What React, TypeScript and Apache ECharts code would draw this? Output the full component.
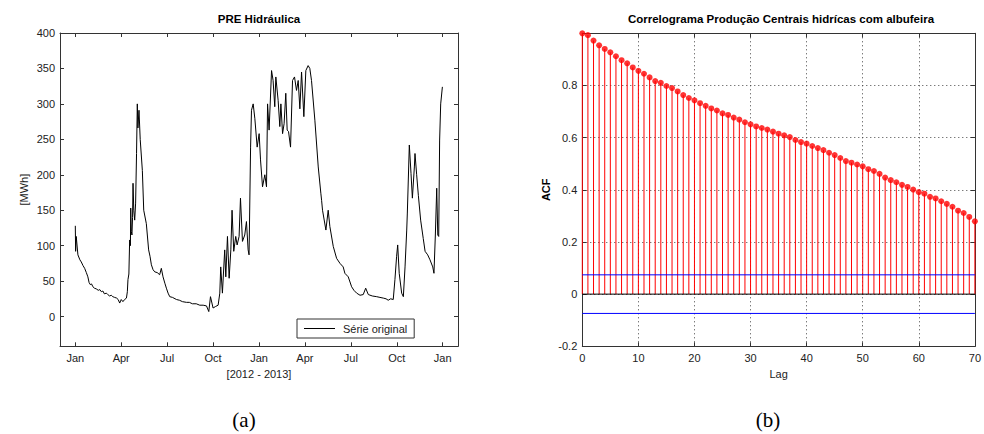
import React, { useEffect, useRef } from "react";
import * as echarts from "echarts";

// ---------- Left chart: PRE Hidráulica (daily production, 2012-2013) ----------
// x = position in months from 1 Jan 2012 (0 = Jan 2012, 12 = Jan 2013, 24 = Jan 2014)
const quarterTicks = [0, 3, 6, 9, 12, 15, 18, 21, 24];
const quarterLabels = ["Jan", "Apr", "Jul", "Oct", "Jan", "Apr", "Jul", "Oct", "Jan"];
const mwhTicks = [0, 50, 100, 150, 200, 250, 300, 350, 400];

const monthPos = [
  0.0, 0.02, 0.06, 0.17, 0.3, 0.39, 0.5, 0.61, 0.72, 0.82, 0.9, 0.98, 1.06, 1.15, 1.25, 1.37, 1.5, 1.6, 1.7, 1.8,
  1.9, 2.03, 2.12, 2.24, 2.35, 2.45, 2.57, 2.7, 2.8, 2.9, 3.0, 3.11, 3.22, 3.34, 3.4, 3.44, 3.5, 3.55, 3.6, 3.62,
  3.66, 3.7, 3.74, 3.77, 3.82, 3.88, 3.94, 4.0, 4.05, 4.09, 4.16, 4.24, 4.38, 4.47, 4.64, 4.79, 4.88, 4.97, 5.08, 5.19,
  5.35, 5.51, 5.62, 5.73, 5.85, 5.95, 6.06, 6.17, 6.35, 6.61, 6.8, 7.0, 7.26, 7.45, 7.65, 7.9, 8.13, 8.35, 8.57, 8.72,
  8.83, 9.0, 9.15, 9.33, 9.44, 9.5, 9.61, 9.76, 9.83, 9.94, 10.05, 10.16, 10.24, 10.35, 10.48, 10.57, 10.7, 10.79, 10.92, 11.07,
  11.18, 11.29, 11.35, 11.45, 11.51, 11.62, 11.73, 11.88, 12.01, 12.1, 12.23, 12.38, 12.49, 12.56, 12.66, 12.82, 12.92, 13.03, 13.1, 13.25,
  13.36, 13.43, 13.54, 13.64, 13.75, 13.84, 13.93, 14.06, 14.19, 14.32, 14.45, 14.56, 14.67, 14.78, 14.93, 15.06, 15.21, 15.32, 15.43, 15.65,
  15.87, 16.04, 16.09, 16.15, 16.37, 16.52, 16.63, 16.85, 17.07, 17.29, 17.5, 17.61, 17.83, 18.05, 18.2, 18.38, 18.6, 18.81, 18.97, 19.14,
  19.4, 19.69, 19.9, 20.12, 20.3, 20.44, 20.6, 20.77, 20.88, 20.99, 21.06, 21.16, 21.32, 21.43, 21.54, 21.65, 21.69, 21.82, 21.93, 22.02,
  22.15, 22.19, 22.3, 22.41, 22.56, 22.73, 22.85, 23.02, 23.17, 23.35, 23.43, 23.52, 23.61, 23.68, 23.74, 23.8, 23.87, 23.98,
];
const prodMWh = [
  128, 92, 113, 87, 80, 77, 72, 68, 62, 56, 48, 45, 46, 42, 40, 39, 37, 38, 35, 36,
  32, 33, 31, 29, 30, 28, 27, 26, 24, 19, 24, 21, 24, 26, 35, 52, 60, 108, 100, 153,
  120, 115, 140, 188, 150, 136, 160, 230, 300, 266, 291, 250, 206, 150, 131, 94, 85, 73, 66, 63,
  62, 59, 68, 56, 47, 40, 33, 28, 27, 24, 23, 21, 20, 20, 18, 18, 16, 16, 15, 7,
  28, 12, 14, 16, 33, 70, 33, 94, 56, 113, 54, 94, 150, 92, 113, 101, 113, 167, 106, 115,
  134, 94, 87, 239, 291, 300, 279, 239, 258, 221, 183, 200, 183, 300, 263, 347, 333, 296, 338, 305,
  268, 300, 258, 272, 315, 263, 261, 239, 333, 338, 319, 333, 293, 345, 282, 347, 354, 350, 333, 277,
  211, 174, 164, 150, 122, 150, 127, 99, 82, 75, 70, 61, 56, 42, 37, 33, 30, 31, 40, 31,
  29, 28, 27, 26, 25, 23, 25, 24, 52, 85, 101, 61, 33, 28, 70, 122, 146, 242, 202, 167,
  211, 230, 200, 171, 136, 110, 92, 87, 80, 70, 61, 115, 181, 115, 113, 249, 300, 324,
];

// ---------- Right chart: correlogram ----------
const lags = [
  0, 1, 2, 3, 4, 5, 6, 7, 8, 9, 10, 11, 12, 13, 14, 15, 16, 17, 18, 19, 20, 21, 22, 23, 24, 25, 26, 27, 28, 29, 30, 31, 32, 33, 34, 35,
  36, 37, 38, 39, 40, 41, 42, 43, 44, 45, 46, 47, 48, 49, 50, 51, 52, 53, 54, 55, 56, 57, 58, 59, 60, 61, 62, 63, 64, 65, 66, 67, 68, 69, 70,
];
const acf = [
  1.0, 0.993, 0.972, 0.954, 0.94, 0.927, 0.912, 0.897, 0.885, 0.869, 0.856, 0.845, 0.831, 0.817, 0.81, 0.798, 0.79, 0.777, 0.763, 0.752,
  0.743, 0.732, 0.722, 0.712, 0.704, 0.693, 0.687, 0.677, 0.669, 0.659, 0.651, 0.643, 0.637, 0.631, 0.623, 0.615, 0.609, 0.602, 0.591, 0.583,
  0.577, 0.568, 0.56, 0.552, 0.542, 0.533, 0.522, 0.51, 0.504, 0.497, 0.49, 0.479, 0.472, 0.461, 0.447, 0.437, 0.429, 0.419, 0.411, 0.401,
  0.391, 0.385, 0.373, 0.367, 0.356, 0.346, 0.335, 0.32, 0.311, 0.296, 0.279,
];
const confBound = 0.074;

const FONT = "'Liberation Sans', Arial, Helvetica, sans-serif";
const AXIS_COLOR = "#333333";
const LABEL_COLOR = "#222222";

export default function App() {
  const ref = useRef<HTMLDivElement>(null);

  useEffect(() => {
    document.body.style.margin = "0";
    if (!ref.current) return;
    const chart = echarts.init(ref.current, null, { renderer: "svg" });

    const axisLine = { show: true, onZero: false, lineStyle: { color: AXIS_COLOR, width: 1 } };
    const labelStyle = { color: LABEL_COLOR, fontFamily: FONT, fontSize: 11 };
    const dotted = { show: true, lineStyle: { color: "#444", type: [1, 3], width: 1 } };

    const option: any = {
      animation: false,
      backgroundColor: "#ffffff",
      textStyle: { fontFamily: FONT },
      title: [
        {
          text: "PRE Hidráulica",
          left: 259,
          top: 13,
          textAlign: "center",
          padding: 0,
          textStyle: { fontFamily: FONT, fontSize: 11.5, fontWeight: "bold", color: "#000" },
        },
        {
          text: "Correlograma Produção Centrais hidrícas com albufeira",
          left: 781,
          top: 13,
          textAlign: "center",
          padding: 0,
          textStyle: { fontFamily: FONT, fontSize: 11.5, fontWeight: "bold", color: "#000" },
        },
      ],
      legend: {
        data: ["Série original"],
        left: 297,
        top: 319,
        orient: "horizontal",
        backgroundColor: "#ffffff",
        borderColor: AXIS_COLOR,
        borderWidth: 1,
        borderRadius: 0,
        padding: [4, 7, 4, 7],
        icon: "rect",
        itemWidth: 31,
        itemHeight: 1,
        itemStyle: { color: "#000" },
        textStyle: { fontFamily: FONT, fontSize: 11, color: LABEL_COLOR, padding: [0, 0, 0, 3] },
      },
      grid: [
        { left: 60, top: 33, width: 398, height: 313.3, containLabel: false },
        { left: 582.3, top: 33.3, width: 397, height: 313, containLabel: false },
      ],
      xAxis: [
        {
          type: "value",
          gridIndex: 0,
          min: -1,
          max: 25,
          position: "bottom",
          name: "[2012 - 2013]",
          nameLocation: "middle",
          nameGap: 20,
          nameTextStyle: { fontFamily: FONT, fontSize: 11, color: LABEL_COLOR },
          axisLine,
          axisTick: { show: true, inside: true, length: 4, customValues: quarterTicks, lineStyle: { color: AXIS_COLOR } },
          axisLabel: {
            ...labelStyle,
            margin: 6,
            customValues: quarterTicks,
            formatter: (v: number) => {
              const i = quarterTicks.indexOf(Math.round(v));
              return i >= 0 ? quarterLabels[i] : "";
            },
          },
          splitLine: { show: false },
        },
        {
          type: "value",
          gridIndex: 0,
          min: -1,
          max: 25,
          position: "top",
          axisLine,
          axisTick: { show: true, inside: true, length: 4, customValues: quarterTicks, lineStyle: { color: AXIS_COLOR } },
          axisLabel: { show: false },
          splitLine: { show: false },
        },
        {
          type: "value",
          gridIndex: 1,
          min: 0,
          max: 70,
          interval: 10,
          position: "bottom",
          name: "Lag",
          nameLocation: "middle",
          nameGap: 20,
          nameTextStyle: { fontFamily: FONT, fontSize: 11, color: LABEL_COLOR },
          axisLine,
          axisTick: { show: true, inside: true, length: 4, lineStyle: { color: AXIS_COLOR } },
          axisLabel: { ...labelStyle, margin: 6 },
          splitLine: dotted,
        },
        {
          type: "value",
          gridIndex: 1,
          min: 0,
          max: 70,
          interval: 10,
          position: "top",
          axisLine,
          axisTick: { show: true, inside: true, length: 4, lineStyle: { color: AXIS_COLOR } },
          axisLabel: { show: false },
          splitLine: { show: false },
        },
      ],
      yAxis: [
        {
          type: "value",
          gridIndex: 0,
          min: -42,
          max: 400,
          position: "left",
          name: "[MWh]",
          nameLocation: "middle",
          nameGap: 31,
          nameRotate: 90,
          nameTextStyle: { fontFamily: FONT, fontSize: 11, color: LABEL_COLOR },
          axisLine,
          axisTick: { show: true, inside: true, length: 4, customValues: mwhTicks, lineStyle: { color: AXIS_COLOR } },
          axisLabel: { ...labelStyle, margin: 5, customValues: mwhTicks },
          splitLine: { show: false },
        },
        {
          type: "value",
          gridIndex: 0,
          min: -42,
          max: 400,
          position: "right",
          axisLine,
          axisTick: { show: true, inside: true, length: 4, customValues: mwhTicks, lineStyle: { color: AXIS_COLOR } },
          axisLabel: { show: false },
          splitLine: { show: false },
        },
        {
          type: "value",
          gridIndex: 1,
          min: -0.2,
          max: 1,
          interval: 0.2,
          position: "left",
          name: "ACF",
          nameLocation: "middle",
          nameGap: 31,
          nameRotate: 90,
          nameTextStyle: { fontFamily: FONT, fontSize: 11, fontWeight: "bold", color: "#000" },
          axisLine,
          axisTick: { show: true, inside: true, length: 4, lineStyle: { color: AXIS_COLOR } },
          axisLabel: {
            ...labelStyle,
            margin: 5,
            showMaxLabel: false,
            formatter: (v: number) => {
              const r = Math.round(v * 10) / 10;
              return r === 0 ? "0" : String(r);
            },
          },
          splitLine: dotted,
        },
        {
          type: "value",
          gridIndex: 1,
          min: -0.2,
          max: 1,
          interval: 0.2,
          position: "right",
          axisLine,
          axisTick: { show: true, inside: true, length: 4, lineStyle: { color: AXIS_COLOR } },
          axisLabel: { show: false },
          splitLine: { show: false },
        },
      ],
      graphic: [
        {
          type: "text",
          x: 244,
          y: 420,
          style: {
            text: "(a)",
            fontFamily: "'Liberation Serif', 'DejaVu Serif', serif",
            fontSize: 21,
            fill: "#000",
            textAlign: "center",
            textVerticalAlign: "middle",
          },
        },
        {
          type: "text",
          x: 768,
          y: 420,
          style: {
            text: "(b)",
            fontFamily: "'Liberation Serif', 'DejaVu Serif', serif",
            fontSize: 21,
            fill: "#000",
            textAlign: "center",
            textVerticalAlign: "middle",
          },
        },
      ],
      series: [
        {
          name: "Série original",
          type: "line",
          xAxisIndex: 0,
          yAxisIndex: 0,
          data: monthPos.map((m, i) => [m, prodMWh[i]]),
          showSymbol: false,
          symbol: "none",
          lineStyle: { color: "#000", width: 1 },
          itemStyle: { color: "#000" },
          z: 3,
        },
        {
          name: "stems",
          type: "custom",
          xAxisIndex: 2,
          yAxisIndex: 2,
          data: lags.map((l, i) => [l, acf[i]]),
          clip: false,
          renderItem: (params: any, api: any) => {
            const x = api.value(0);
            const y = api.value(1);
            const p0 = api.coord([x, 0]);
            const p1 = api.coord([x, y]);
            return {
              type: "line",
              shape: { x1: p0[0], y1: p0[1], x2: p1[0], y2: p1[1] },
              style: { stroke: "#ff0000", lineWidth: 1 },
            };
          },
          z: 2,
        },
        {
          name: "ACF",
          type: "scatter",
          xAxisIndex: 2,
          yAxisIndex: 2,
          data: lags.map((l, i) => [l, acf[i]]),
          symbol: "circle",
          symbolSize: 6,
          itemStyle: { color: "#ff0000" },
          clip: false,
          z: 4,
        },
        {
          name: "upper",
          type: "line",
          xAxisIndex: 2,
          yAxisIndex: 2,
          data: [
            [0, confBound],
            [70, confBound],
          ],
          showSymbol: false,
          symbol: "none",
          lineStyle: { color: "#0000ff", width: 1 },
          z: 5,
        },
        {
          name: "lower",
          type: "line",
          xAxisIndex: 2,
          yAxisIndex: 2,
          data: [
            [0, -confBound],
            [70, -confBound],
          ],
          showSymbol: false,
          symbol: "none",
          lineStyle: { color: "#0000ff", width: 1 },
          z: 5,
        },
        {
          name: "baseline",
          type: "line",
          xAxisIndex: 2,
          yAxisIndex: 2,
          data: [
            [0, 0],
            [70, 0],
          ],
          showSymbol: false,
          symbol: "none",
          lineStyle: { color: "#000", width: 1 },
          z: 5,
        },
      ],
    };

    chart.setOption(option);
    return () => chart.dispose();
  }, []);

  return <div ref={ref} style={{ width: 984, height: 434 }} />;
}
